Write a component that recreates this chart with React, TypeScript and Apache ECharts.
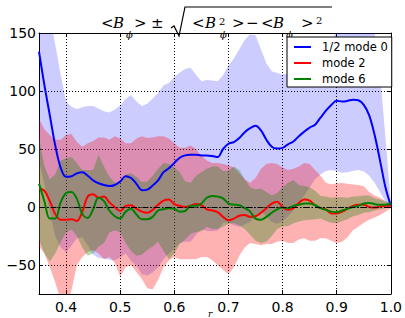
import React, { useEffect, useRef } from "react";
import * as echarts from "echarts";

// radius grid
const radius = [
  0.35, 0.36, 0.37, 0.38, 0.39, 0.4, 0.41, 0.42, 0.43, 0.44, 0.45, 0.46, 0.47, 0.48, 0.49,
  0.5, 0.51, 0.52, 0.53, 0.54, 0.55, 0.56, 0.57, 0.58, 0.59, 0.6, 0.61, 0.62, 0.63, 0.64,
  0.65, 0.66, 0.67, 0.68, 0.69, 0.7, 0.71, 0.72, 0.73, 0.74, 0.75, 0.76, 0.77, 0.78, 0.79,
  0.8, 0.81, 0.82, 0.83, 0.84, 0.85, 0.86, 0.87, 0.88, 0.89, 0.9, 0.91, 0.92, 0.93, 0.94,
  0.95, 0.96, 0.97, 0.98, 0.99, 1.0,
];

// 1/2 mode 0
const mode0Mean = [
  134, 105, 79, 53, 34, 26, 26.5, 29, 30, 27, 23, 20.5, 19, 18, 19,
  22, 26.5, 25, 20, 14.5, 15, 18.5, 23, 30, 33.5, 38, 42.5, 44.5, 45, 45,
  44.5, 44.5, 44, 43, 50, 54.5, 56, 59.5, 64.5, 68, 70, 66, 58, 52, 50.5,
  51, 54, 56.5, 61, 65, 68.5, 71, 77, 83, 88, 91.5, 91, 91.5, 92.5, 92,
  88, 79, 62, 40, 17, 1,
];
const mode0Upper = [
  230, 195, 165, 140, 114, 91, 86.5, 84.5, 86, 87, 87, 85, 82.5, 81.5, 84,
  87.5, 93, 96.5, 91, 87, 89, 93.5, 98, 105, 107, 112, 116, 119, 120, 114,
  108.5, 109.5, 109, 108.5, 113.5, 122, 128, 136, 144, 149, 148, 136, 124, 117, 115.5,
  114, 115, 116, 118, 120, 120, 118, 118, 122, 140, 153, 153, 151, 150, 150,
  152, 154, 150, 115, 60, 3,
];
const mode0Lower = [
  40, 20, -5, -25, -35, -39, -33.5, -27, -26, -33, -41, -44, -44.5, -45.5, -46,
  -43.5, -40, -46.5, -50.5, -58, -59, -56.5, -52, -45, -40, -36, -31, -30, -30, -24,
  -19.5, -20.5, -21, -20.5, -13.5, -13, -16, -17, -15, -13, -8, -4, -8, -13, -14.5,
  -12, -8, -3, 3, 10, 17, 24, 28, 31, 32, 31, 29.5, 30, 31, 32,
  30.5, 27, 21, 13, 5, 0,
];

// mode 2
const mode2Mean = [
  16, 14, 5, -6, -11, -11, -10.5, -12, -4, 9, 11, 8, 9, 4, 0,
  -3.5, 1, 1.5, -1.5, -4, -5, -2.5, 2, 5.5, 6.5, 2.5, 1, 0, 1, 2.5,
  1.5, -2, -3, -4.5, -8.5, -11.5, -10, -7.5, -7, -8.5, -8, -5, -1, 3, 4.5,
  0, -2.3, -1, 3.5, 6.5, 5.5, 1.5, -1, -2, -5.5, -5.5, -4, -1.5, 1, 2,
  2, 0, -0.5, 0.5, 1, 1,
];
const mode2Upper = [
  76, 67, 62, 58, 58, 62, 63, 56, 52, 55, 57, 60, 60, 58, 61,
  59, 55, 55, 59, 61, 59.5, 60, 61, 61, 59, 55, 51, 51, 53, 50,
  44, 40, 38, 38, 37, 36, 34, 29, 24, 21, 25, 33, 37, 38, 37,
  34, 32, 33, 35, 38, 37, 32, 27, 21, 19.5, 20.5, 20.7, 20, 19.3, 19,
  17.8, 13, 10, 8, 5, 1.5,
];
const mode2Lower = [
  -34, -40, -52, -65, -80, -85, -72, -50, -43, -39, -37, -40, -45, -43, -48,
  -60, -52, -50, -56, -62, -70, -71, -63, -52, -46, -43, -45, -45, -45, -45,
  -43, -43, -46, -50, -54, -58, -52, -42, -35, -31, -32, -33, -32, -32, -30,
  -29, -31, -31, -28, -27, -29, -29, -27, -27, -29, -31, -30, -26, -20, -17,
  -13.5, -11, -9, -7, -4, -1,
];

// mode 6
const mode6Mean = [
  20, 5, -10, -10, 4, 12, 13, 7, -6, -9.5, -2, 8, 5, -3, -8,
  -10, -4, -1.5, -6.5, -10.5, -10.5, -8.5, -3, -2, -1, -1.5, -4, -3.5, 1, 1,
  3, 8, 9.5, 9, 7.5, 3, 2, 1.5, -1, -4, -10, -11, -8.5, -5, -2,
  -0.5, -1, 1, 2, 3, 3, 1.5, -1, -2.5, -4, -4.5, -3, -1.5, 0, 1,
  3, 3.5, 2.5, 2, 2, 3,
];
const mode6Upper = [
  60, 35, 24, 28, 40, 42, 43, 38, 32, 32, 32, 45, 35, 26, 21,
  22, 28, 29, 26, 21.5, 22, 27, 33, 38, 37, 34, 30, 22, 21, 27,
  30, 33, 35, 35, 31, 31, 35, 32, 24, 17, 15, 16, 13, 10, 12,
  17, 21, 23, 19, 18, 17, 14, 9.5, 9, 8, 8.5, 8.5, 8, 9, 9.2,
  10, 10, 7.5, 6.5, 5, 3.5,
];
const mode6Lower = [
  -28, -40, -47, -40, -30, -22, -19.5, -25, -35, -42, -40, -34, -31, -22, -20,
  -22, -31, -38, -42, -41, -37, -34, -30, -38, -45, -40, -32, -28, -23, -21.5,
  -21, -17, -19, -19, -17, -14.5, -14, -16, -19, -24, -29, -31, -30, -25, -19,
  -16.5, -16.5, -14, -12.5, -11.5, -11, -10.5, -10, -12, -13.5, -14, -12, -10.5, -8, -7,
  -5, -4.5, -3, -2, -1, 1,
];

const seriesNames = ["1/2 mode 0", "mode 2", "mode 6"];
const xTicks = [0.4, 0.5, 0.6, 0.7, 0.8, 0.9, 1.0];
const yTicks = [-50, 0, 50, 100, 150];

const SANS = '"DejaVu Sans", sans-serif';
const SERIF = '"DejaVu Serif", serif';

function band(lower: number[], upper: number[], color: string) {
  return {
    type: "custom",
    silent: true,
    clip: true,
    z: 1,
    xAxisIndex: 0,
    yAxisIndex: 0,
    encode: { x: 0, y: 1 },
    data: [[radius[0], lower[0]]],
    renderItem: (params: any, api: any) => {
      const pts: number[][] = [];
      for (let i = 0; i < radius.length; i++) pts.push(api.coord([radius[i], upper[i]]));
      for (let i = radius.length - 1; i >= 0; i--) pts.push(api.coord([radius[i], lower[i]]));
      const cs = params.coordSys;
      return {
        type: "polygon",
        shape: { points: pts },
        style: { fill: color },
        clipPath: { type: "rect", shape: { x: cs.x, y: cs.y, width: cs.width, height: cs.height } },
      };
    },
  };
}

function meanLine(name: string, values: number[], color: string) {
  return {
    type: "line",
    name,
    xAxisIndex: 0,
    yAxisIndex: 0,
    data: radius.map((r, i) => [r, values[i]]),
    symbol: "none",
    showSymbol: false,
    smooth: 0.35,
    z: 3,
    color,
    lineStyle: { color, width: 2 },
    clip: true,
  };
}

function txt(t: string, x: number, y: number, size: number, italic: boolean) {
  return {
    type: "text",
    x,
    y,
    silent: true,
    style: {
      text: t,
      fontFamily: SERIF,
      fontSize: size,
      fontStyle: italic ? "italic" : "normal",
      fill: "#000",
      align: "left",
      verticalAlign: "middle",
    },
  };
}

export default function App() {
  const ref = useRef<HTMLDivElement>(null);
  useEffect(() => {
    if (!ref.current) return;
    const chart = echarts.init(ref.current, undefined, { renderer: "svg" });
    const tickCommon = {
      show: true,
      inside: true,
      length: 4,
      lineStyle: { color: "#000", width: 1 },
    };
    const option: any = {
      animation: false,
      backgroundColor: "#fff",
      grid: { left: 39, top: 33, width: 352, height: 261, containLabel: false },
      xAxis: [
        {
          type: "value",
          position: "bottom",
          min: 0.35,
          max: 1.0,
          axisLine: { show: true, onZero: false, lineStyle: { color: "#000", width: 1 } },
          axisTick: { ...tickCommon, customValues: xTicks },
          axisLabel: {
            customValues: xTicks,
            formatter: (v: number) => v.toFixed(1),
            fontFamily: SANS,
            fontSize: 14,
            color: "#000",
            margin: 6,
          },
          splitLine: { show: true, lineStyle: { color: "#000", type: [1, 2], width: 1 } },
        },
        {
          type: "value",
          position: "top",
          min: 0.35,
          max: 1.0,
          axisLine: { show: true, onZero: false, lineStyle: { color: "#000", width: 1 } },
          axisTick: { ...tickCommon, customValues: xTicks },
          axisLabel: { show: false },
          splitLine: { show: false },
        },
      ],
      yAxis: [
        {
          type: "value",
          position: "left",
          min: -75,
          max: 150,
          axisLine: { show: true, onZero: false, lineStyle: { color: "#000", width: 1 } },
          axisTick: { ...tickCommon, customValues: yTicks },
          axisLabel: {
            customValues: yTicks,
            formatter: (v: number) => (v < 0 ? "\u2212" + Math.abs(v) : String(v)),
            fontFamily: SANS,
            fontSize: 14,
            color: "#000",
            margin: 3,
          },
          splitLine: { show: true, lineStyle: { color: "#000", type: [1, 2], width: 1 } },
        },
        {
          type: "value",
          position: "right",
          min: -75,
          max: 150,
          axisLine: { show: true, onZero: false, lineStyle: { color: "#000", width: 1 } },
          axisTick: { ...tickCommon, customValues: yTicks },
          axisLabel: { show: false },
          splitLine: { show: false },
        },
      ],
      legend: {
        data: seriesNames,
        orient: "vertical",
        left: 287,
        top: 37,
        icon: "rect",
        itemWidth: 17,
        itemHeight: 2,
        itemGap: 2,
        padding: [3, 4, 1, 7],
        backgroundColor: "#fff",
        borderColor: "#000",
        borderWidth: 1,
        borderRadius: 0,
        textStyle: {
          fontFamily: SANS,
          fontSize: 11.5,
          lineHeight: 14,
          color: "#000",
          padding: [0, 0, 0, 6],
        },
        z: 10,
      },
      series: [
        band(mode0Lower, mode0Upper, "rgba(0,0,255,0.2)"),
        band(mode2Lower, mode2Upper, "rgba(255,0,0,0.3)"),
        band(mode6Lower, mode6Upper, "rgba(0,128,0,0.3)"),
        {
          type: "line",
          name: "zero",
          xAxisIndex: 0,
          yAxisIndex: 0,
          data: [],
          z: 2,
          markLine: {
            silent: true,
            symbol: ["none", "none"],
            label: { show: false },
            lineStyle: { color: "#000", type: [6, 2, 1.5, 2], width: 1 },
            data: [{ yAxis: 0 }],
          },
        },
        meanLine(seriesNames[0], mode0Mean, "#0000ff"),
        meanLine(seriesNames[1], mode2Mean, "#ff0000"),
        meanLine(seriesNames[2], mode6Mean, "#008000"),
      ],
      graphic: [
        txt("<", 101, 23, 15, false),
        txt("B", 113, 23, 15, true),
        txt("\u03d5", 126, 34, 10, true),
        txt(">", 134, 23, 15, false),
        txt("\u00b1", 151, 23, 15, false),
        {
          type: "polyline",
          silent: true,
          shape: { points: [[171, 28], [174, 26], [179, 36], [185, 7], [332, 7]] },
          style: { stroke: "#000", lineWidth: 1.2, fill: null },
        },
        txt("<", 192, 23, 15, false),
        txt("B", 205, 23, 15, true),
        txt("2", 219, 21.5, 10, false),
        txt("\u03d5", 220, 34, 10, true),
        txt(">", 232, 23, 15, false),
        txt("\u2212", 246, 23, 15, false),
        txt("<", 261, 23, 15, false),
        txt("B", 273, 23, 15, true),
        txt("\u03d5", 286, 34, 10, true),
        txt(">", 301, 23, 15, false),
        txt("2", 316, 20, 10, false),
        txt("r", 208, 314, 9, true),
      ],
    };
    chart.setOption(option);
    return () => chart.dispose();
  }, []);
  return (
    <div
      ref={ref}
      style={{ position: "absolute", left: 0, top: 0, width: 405, height: 318 }}
    />
  );
}
